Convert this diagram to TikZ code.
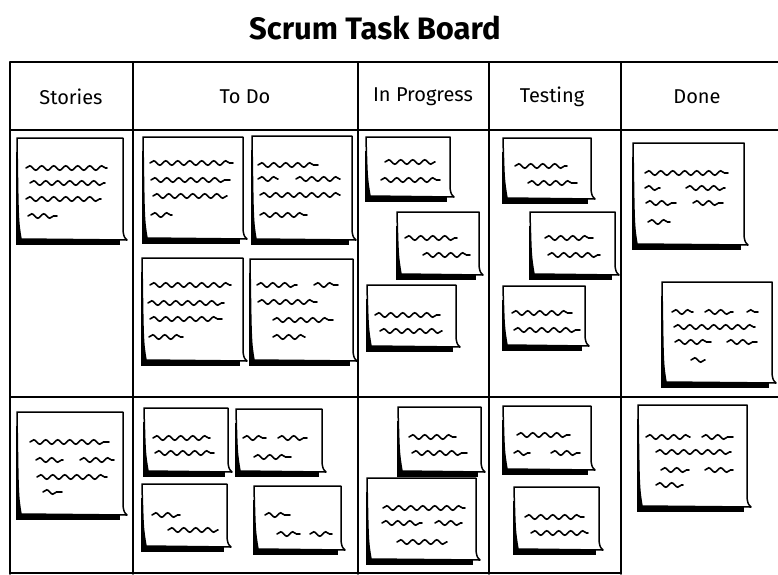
\documentclass[tikz,border=0pt]{standalone}
\usepackage{fontspec}
\setmainfont{Fira Sans}
\usetikzlibrary{decorations.pathmorphing}
\tikzset{
  gridline/.style={line width=1.6pt, line cap=round},
  notebody/.style={draw=black, fill=white, line width=1.5pt, line join=round},
  noteshadow/.style={fill=black},
  squig/.style={decorate, decoration={snake, segment length=12pt, amplitude=2.2pt}, line width=1.6pt, line cap=round},
  header/.style={font=\fontsize{20}{24}\selectfont, anchor=center},
  titletext/.style={font=\fontsize{31}{36}\selectfont\bfseries, anchor=center}
}
\newcommand\stickynote[4]{%
  \fill[noteshadow] ({#1-1},{#2+14}) rectangle ({#3-3},{#4+4});
  \draw[notebody] (#1,#2) -- (#3,#2) -- ({#3},{#4-10}) .. controls ({#3+1},{#4-4}) .. ({#3+4},{#4-1})
     -- ({#1+4},{#4-2}) .. controls ({#1+1},{#4-20}) .. (#1,#2) -- cycle;
}
\newcommand\sq[3]{\draw[squig] (#1,#3) -- (#2,#3);}
\begin{document}
\begin{tikzpicture}[x=1pt,y=-1pt]
\useasboundingbox (0,0) rectangle (778,574);
% title
\node[titletext] (title) at (375,28) {Scrum Task Board};
% grid
\draw[gridline] (10,62) -- (778,62);
\draw[gridline] (10,130) -- (778,130);
\draw[gridline] (10,397) -- (778,397);
\draw[gridline] (10,573) -- (620,573);
\foreach \xx in {10,133,358,489,621} {\draw[gridline] (\xx,62) -- (\xx,574);}
% headers
\node[header] (hstories) at (71,97) {Stories};
\node[header] (htodo) at (245,97) {To Do};
\node[header] (hprog) at (423,97) {In Progress};
\node[header] (htest) at (552,97) {Testing};
\node[header] (hdone) at (697,97) {Done};
% ===== row 1 =====
% Stories
\stickynote{17}{138}{123}{241}
\sq{26}{107}{168}\sq{30}{105}{183}\sq{26}{101}{199}\sq{28}{57}{216}
% To Do
\stickynote{143}{137}{243}{240}
\sq{150}{233}{163}\sq{151}{230}{180}\sq{153}{227}{196}\sq{151}{172}{215}
\stickynote{252}{136}{352}{241}
\sq{258}{318}{165}\sq{258}{278}{179}\sq{296}{340}{179}\sq{260}{340}{195}\sq{260}{307}{215}
\stickynote{142}{258}{243}{362}
\sq{150}{231}{285}\sq{148}{224}{303}\sq{150}{222}{319}\sq{149}{183}{337}
\stickynote{250}{259}{353}{362}
\sq{257}{297}{285}\sq{314}{338}{285}\sq{258}{317}{302}\sq{273}{333}{320}\sq{273}{305}{337}
% In Progress
\stickynote{366}{137}{450}{198}
\sq{385}{435}{162}\sq{381}{440}{180}
\stickynote{397}{212}{479}{276}
\sq{405}{457}{238}\sq{423}{470}{255}
\stickynote{367}{285}{456}{348}
\sq{375}{440}{315}\sq{380}{442}{331}
% Testing
\stickynote{503}{138}{591}{200}
\sq{515}{567}{166}\sq{528}{577}{183}
\stickynote{530}{212}{615}{276}
\sq{545}{593}{238}\sq{548}{600}{255}
\stickynote{503}{286}{585}{347}
\sq{512}{572}{313}\sq{514}{580}{330}
% Done
\stickynote{633}{143}{744}{246}
\sq{645}{728}{173}\sq{645}{660}{188}\sq{686}{725}{188}\sq{646}{676}{203}\sq{693}{723}{203}\sq{648}{670}{222}
\stickynote{662}{282}{772}{384}
\sq{672}{693}{312}\sq{705}{733}{312}\sq{747}{758}{312}\sq{674}{755}{327}\sq{675}{711}{342}\sq{727}{757}{342}\sq{691}{705}{360}
% ===== row 2 =====
\stickynote{17}{412}{123}{516}
\sq{30}{109}{442}\sq{36}{63}{460}\sq{80}{114}{460}\sq{37}{107}{477}\sq{43}{62}{492}
\stickynote{144}{408}{228}{473}
\sq{153}{210}{438}\sq{155}{214}{453}
\stickynote{236}{409}{322}{473}
\sq{243}{266}{438}\sq{278}{307}{438}\sq{254}{291}{457}
\stickynote{142}{484}{227}{548}
\sq{152}{180}{515}\sq{168}{218}{530}
\stickynote{254}{486}{341}{551}
\sq{265}{290}{515}\sq{277}{300}{534}\sq{310}{332}{534}
\stickynote{398}{407}{481}{473}
\sq{409}{456}{437}\sq{412}{467}{453}
\stickynote{367}{478}{476}{561}
\sq{383}{465}{508}\sq{382}{422}{523}\sq{435}{462}{523}\sq{397}{447}{542}
\stickynote{503}{406}{591}{471}
\sq{517}{570}{435}\sq{514}{530}{453}\sq{551}{580}{453}
\stickynote{514}{487}{599}{551}
\sq{525}{584}{517}\sq{531}{588}{533}
\stickynote{638}{405}{747}{508}
\sq{646}{690}{437}\sq{702}{733}{437}\sq{656}{731}{452}\sq{661}{689}{470}\sq{705}{733}{470}\sq{656}{683}{485}
\end{tikzpicture}
\end{document}
